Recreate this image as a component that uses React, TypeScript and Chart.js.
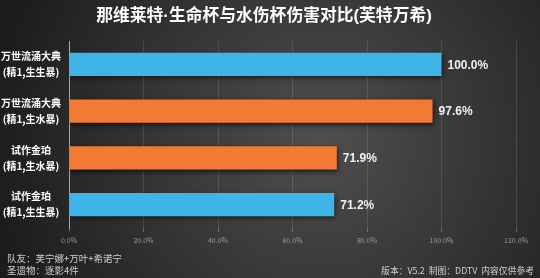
import React, { useEffect, useRef } from "react";
import { Chart, registerables } from "chart.js";

Chart.register(...registerables);

const titleText = "那维莱特·生命杯与水伤杯伤害对比(芙特万希)";
const categories: string[][] = [
  ["万世流涌大典", "(精1,生生暴)"],
  ["万世流涌大典", "(精1,生水暴)"],
  ["试作金珀", "(精1,生水暴)"],
  ["试作金珀", "(精1,生生暴)"],
];
const values = [100.0, 97.6, 71.9, 71.2];
const barColors = ["#3db5e8", "#f27a33", "#f27a33", "#3db5e8"];
const footerLeft = ["队友：芙宁娜+万叶+希诺宁", "圣遗物：逐影4件"];
const footerRight = "版本：V5.2  制图：DDTV  内容仅供参考";

const FONT = "'Noto Sans CJK SC', 'Noto Sans', sans-serif";
const LFONT = "'Liberation Sans', 'Noto Sans CJK SC', sans-serif";

export default function App() {
  const ref = useRef<HTMLCanvasElement | null>(null);
  useEffect(() => {
    document.body.style.margin = "0";
    const canvas = ref.current!;
    const bgPlugin = {
      id: "bg",
      beforeDraw(chart: any) {
        const { ctx, width, height } = chart;
        ctx.save();
        const g = ctx.createRadialGradient(320, 140, 0, 320, 140, 330);
        g.addColorStop(0, "#4f4f4f");
        g.addColorStop(1, "#1c1c1c");
        ctx.fillStyle = g;
        ctx.fillRect(0, 0, width, height);
        ctx.restore();
      },
      beforeDatasetsDraw(chart: any) {
        const ctx = chart.ctx;
        ctx.save();
        ctx.shadowColor = "rgba(0,0,0,0.65)";
        ctx.shadowBlur = 5;
        ctx.shadowOffsetX = 1;
        ctx.shadowOffsetY = 2;
      },
      afterDatasetsDraw(chart: any) {
        const ctx = chart.ctx;
        ctx.restore();
        const meta = chart.getDatasetMeta(0);
        ctx.save();
        ctx.fillStyle = "#f2f2f2";
        ctx.font = `bold 12px ${LFONT}`;
        ctx.textAlign = "left";
        ctx.textBaseline = "middle";
        meta.data.forEach((el: any, i: number) => {
          ctx.fillText(values[i].toFixed(1) + "%", el.x + 6, el.y + 1);
        });
        ctx.restore();
      },
      afterDraw(chart: any) {
        const { ctx } = chart;
        ctx.save();
        ctx.fillStyle = "#ffffff";
        ctx.font = `bold 16.8px ${LFONT}`;
        ctx.textAlign = "center";
        ctx.textBaseline = "middle";
        ctx.fillText(titleText, 264, 16);
        ctx.font = `9.5px ${FONT}`;
        ctx.fillStyle = "#cfcfcf";
        ctx.textAlign = "left";
        ctx.fillText(footerLeft[0], 7, 258);
        ctx.fillText(footerLeft[1], 7, 270);
        ctx.font = `8.8px ${FONT}`;
        ctx.textAlign = "right";
        ctx.fillText(footerRight, 534, 271);
        ctx.restore();
      },
    };
    const chart = new Chart(canvas, {
      type: "bar",
      data: {
        labels: categories,
        datasets: [
          {
            data: values,
            backgroundColor: barColors,
            borderWidth: 0,
            barPercentage: 0.5,
            categoryPercentage: 1,
          },
        ],
      },
      options: {
        indexAxis: "y",
        responsive: false,
        animation: false,
        layout: { padding: { top: 41, right: 24, bottom: 0, left: 0 } },
        plugins: { legend: { display: false }, tooltip: { enabled: false } },
        scales: {
          x: {
            min: 0,
            max: 120,
            ticks: {
              stepSize: 20,
              color: "#9a9a9a",
              font: { size: 7, family: FONT },
              padding: 4,
              callback: (v: any) => Number(v).toFixed(1) + "%",
            },
            grid: {
              color: "rgba(255,255,255,0.12)",
              tickLength: 4,
              tickColor: "rgba(255,255,255,0.25)",
            },
            border: { display: false },
            afterFit(scale: any) {
              scale.height = 50;
            },
          },
          y: {
            ticks: {
              color: "#ffffff",
              font: { size: 10, weight: "bold", family: FONT, lineHeight: 1.6 },
              crossAlign: "center",
              padding: 0,
            },
            grid: { display: false },
            border: { display: true, color: "rgba(255,255,255,0.55)", width: 1 },
            afterFit(scale: any) {
              scale.width = 69;
            },
          },
        },
      },
      plugins: [bgPlugin],
    });
    return () => chart.destroy();
  }, []);
  return (
    <canvas
      ref={ref}
      width={540}
      height={278}
      style={{ display: "block", width: 540, height: 278 }}
    />
  );
}
